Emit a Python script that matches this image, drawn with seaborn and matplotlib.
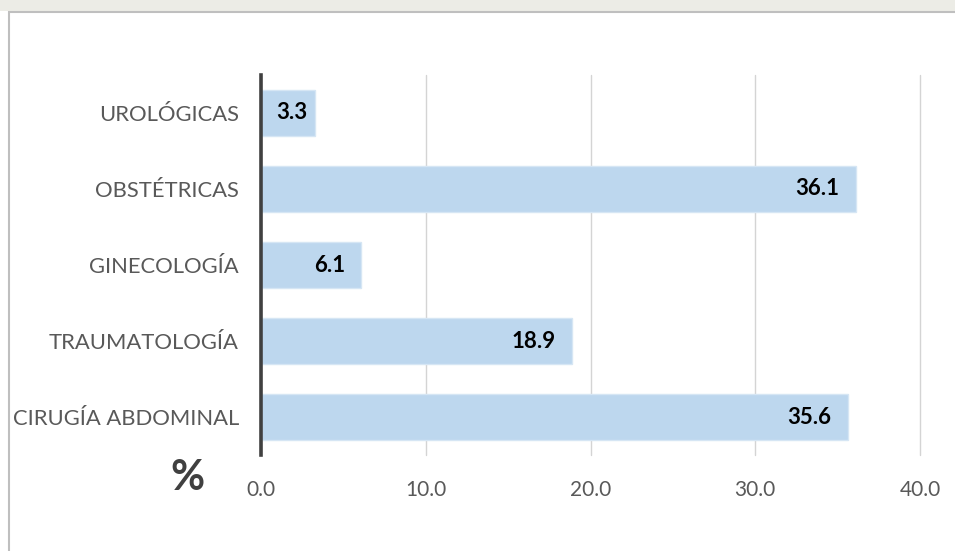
import matplotlib
matplotlib.use("Agg")
import matplotlib.pyplot as plt
import matplotlib.patches as mpatches
import seaborn as sns
import pandas as pd

categories = ["UROLÓGICAS", "OBSTÉTRICAS", "GINECOLOGÍA", "TRAUMATOLOGÍA", "CIRUGÍA ABDOMINAL"]
values = [3.3, 36.1, 6.1, 18.9, 35.6]
x_ticks = [0, 10, 20, 30, 40]
x_tick_labels = ["0.0", "10.0", "20.0", "30.0", "40.0"]

sns.set_theme(style="white")
plt.rcParams["font.family"] = ["Lato", "DejaVu Sans"]

W, H = 955, 551
fig = plt.figure(figsize=(W / 100, H / 100), dpi=100)
fig.patch.set_facecolor("white")

left, right, top, bottom = 261, 920, 75, 455
ax = fig.add_axes([left / W, 1 - bottom / H, (right - left) / W, (bottom - top) / H])

df = pd.DataFrame({"cat": categories, "val": values})
sns.barplot(data=df, y="cat", x="val", orient="h", color="#BDD7EE",
            edgecolor="#D6E6F4", linewidth=1, width=0.6, saturation=1, ax=ax)

ax.set_xlim(0, 40)
ax.set_xticks(x_ticks)
ax.set_xticklabels(x_tick_labels)
ax.set_xlabel("")
ax.set_ylabel("")
ax.grid(axis="x", color="#D4D4D4", linewidth=1)
ax.grid(axis="y", visible=False)
for gl in ax.get_xgridlines():
    gl.set_clip_on(False)
ax.set_axisbelow(True)
for s in ["top", "right", "bottom"]:
    ax.spines[s].set_visible(False)
ax.spines["left"].set_color("#404040")
ax.spines["left"].set_linewidth(2.6)
ax.spines["left"].set_zorder(5)
ax.tick_params(axis="x", length=0, pad=18, labelsize=15, labelcolor="#595959")
ax.tick_params(axis="y", length=0, pad=16, labelsize=15.8, labelcolor="#595959")

for i, v in enumerate(values):
    off = -12 if v > 5 else -6
    ax.annotate(f"{v:.1f}", xy=(v, i), xytext=(off, 0), textcoords="offset points",
                ha="right", va="center", fontsize=16, fontweight="bold", color="black")

fig.text(187 / W, 1 - 478 / H, "%", ha="center", va="center",
         fontsize=30, fontweight="bold", color="#404040")

# top strip above the frame and frame border
fig.add_artist(mpatches.Rectangle((0, 1 - 11 / H), 1, 11 / H, transform=fig.transFigure,
                                  facecolor="#ECECE6", edgecolor="none", zorder=0))
fig.add_artist(mpatches.Rectangle((9 / W, -0.1), 1.2, (1 - 12 / H) + 0.1,
                                  transform=fig.transFigure, fill=False,
                                  edgecolor="#BFBFBF", linewidth=1.5))

fig.savefig("out.png", dpi=100)
